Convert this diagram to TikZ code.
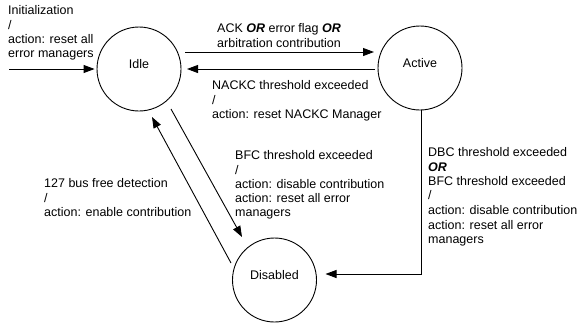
\documentclass[tikz,border=0pt]{standalone}
\usepackage{fontspec}
\setmainfont{Liberation Sans}
\usetikzlibrary{arrows.meta}

\tikzset{
  state/.style={circle, draw, line width=0.9pt, minimum size=84pt, inner sep=0pt,
    text depth=10pt, font=\fontsize{12.5}{14.3}\selectfont},
  note/.style={anchor=north west, inner sep=0pt, align=left,
    font=\fontsize{12.5}{14.3}\selectfont},
  arr/.style={line width=0.9pt, -{Triangle[length=11pt,width=8pt]}},
}

\begin{document}
\begin{tikzpicture}[x=1pt,y=-1pt]
  \useasboundingbox (0,0) rectangle (579,325);

  % states
  \node[state] (idle)     at (139,69)    {Idle};
  \node[state] (active)   at (420,68)    {Active};
  \node[state] (disabled) at (274.5,280) {Disabled};

  % entry transition
  \coordinate (init) at (9,69);
  \draw[arr] (init) -- ([xshift=-2pt]idle.west);
  \node[note] (initlbl) at (8,5.5)
    {Initialization\\/\\action: reset all\\error managers};

  % Idle -> Active
  \draw[arr] ([shift={(46,-17)}]idle.center) -- ([shift={(-46,-16)}]active.center);
  \node[note] (acklbl) at (217,23.5)
    {ACK \textbf{\textit{OR}} error flag \textbf{\textit{OR}}\\arbitration contribution};

  % Active -> Idle
  \draw[arr] ([shift={(-45,1)}]active.center) -- ([shift={(48,0)}]idle.center);
  \node[note] (nacklbl) at (212,80.5)
    {NACKC threshold exceeded\\/\\action: reset NACKC Manager};

  % Idle -> Disabled
  \draw[arr] ([shift={(32,40)}]idle.center) -- ([shift={(-32.5,-43)}]disabled.center);
  \node[note] (bfclbl) at (235,150.5)
    {BFC threshold exceeded\\/\\action: disable contribution\\action: reset all error\\managers};

  % Disabled -> Idle
  \draw[arr] ([shift={(-43.5,-17)}]disabled.center) -- ([shift={(13,48)}]idle.center);
  \node[note] (buslbl) at (44,178.5)
    {127 bus free detection\\/\\action: enable contribution};

  % Active -> Disabled
  \draw[arr] ([xshift=1.5pt]active.south) |- ([shift={(51,-6)}]disabled.center);
  \node[note] (dbclbl) at (428,147.5)
    {DBC threshold exceeded\\\textbf{\textit{OR}}\\BFC threshold exceeded\\/\\[1pt]action: disable contribution\\action: reset all error\\managers};
\end{tikzpicture}
\end{document}
